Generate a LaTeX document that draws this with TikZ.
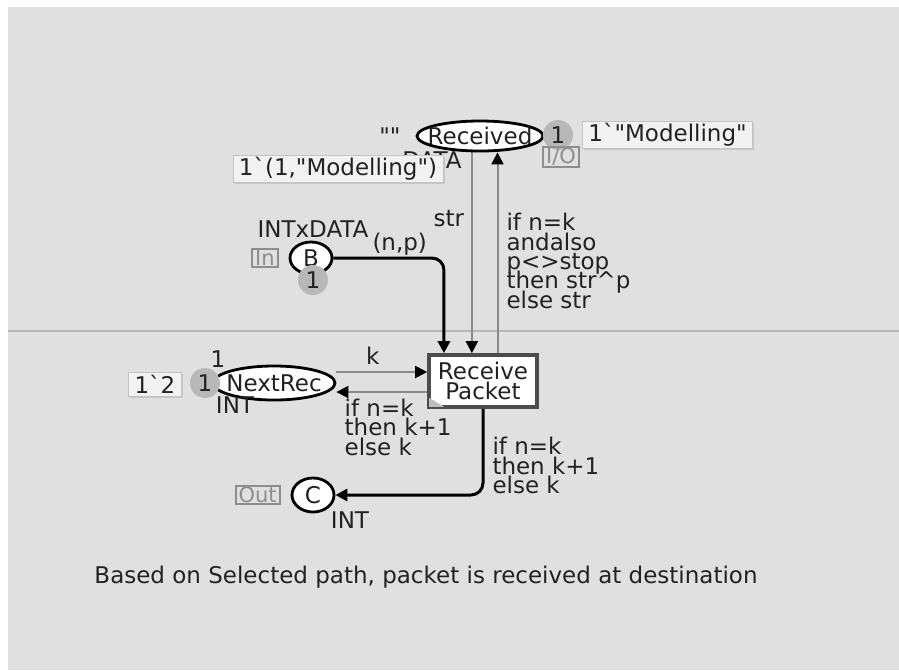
\documentclass[tikz,border=0pt]{standalone}
\usepackage{fontspec}
\setmainfont{DejaVu Sans}[Ligatures=TeXOff]
\usetikzlibrary{arrows.meta, positioning, shapes.geometric, calc, backgrounds, shadows}

\definecolor{canvas}{HTML}{E0E0E0}
\definecolor{sepline}{HTML}{B6B6B6}
\definecolor{tokengray}{HTML}{B8B8B8}
\definecolor{arcgray}{HTML}{8A8A8A}
\definecolor{taggray}{HTML}{8E8E8E}
\definecolor{markfill}{HTML}{F2F2F2}
\definecolor{boxline}{HTML}{C4C4C4}
\definecolor{ink}{HTML}{222222}

\begin{document}
\begin{tikzpicture}[
    x=0.5pt, y=-0.5pt,
    font={\fontsize{11.5}{9.7}\selectfont\lineskiplimit=-6pt},
    every node/.append style={text=ink},
    place/.style={ellipse, draw=black, line width=1.4pt, fill=white, inner sep=0pt},
    port/.style={place, minimum width=21pt, minimum height=16pt},
    trans/.style={rectangle, draw=black!70, line width=1.8pt, fill=white, minimum width=54pt, minimum height=26pt, inner sep=0pt, align=center},
    token/.style={circle, fill=tokengray, minimum size=15pt, inner sep=0pt},
    marking/.style={rectangle, draw=boxline, fill=markfill, inner xsep=3pt, inner ysep=1pt, minimum height=12pt,
        drop shadow={shadow xshift=0.8pt, shadow yshift=-0.8pt, opacity=0.25}},
    tag/.style={rectangle, draw=taggray, line width=0.9pt, text=taggray, inner xsep=1.5pt, inner ysep=0.5pt, font=\fontsize{10.5}{9}\selectfont},
    thin arc/.style={draw=arcgray, line width=1pt, -{Triangle[length=6pt, width=6pt, color=black]}},
    bold arc/.style={draw=black, line width=1.5pt, rounded corners=6pt, -{Triangle[length=6pt, width=6pt]}},
    inscr/.style={align=left, inner sep=0pt}
]

\useasboundingbox (0,0) rectangle (899,670);

% Canvas
\begin{scope}[on background layer]
\fill[white] (0,0) rectangle (899,670);
\fill[canvas] (8,7) rectangle (899,670);
\draw[sepline, line width=1pt] (8,331) -- (899,331);
\end{scope}

% Place Received
\node[place, minimum width=63pt, minimum height=15pt, inner xsep=-4pt] (received) at (480,136) {Received};
\node[left=4pt of received] (recInit) {""};
\node[token] (recTok) at (558,135) {1};
\node[marking, anchor=west] (recMark) at (582,135) {1`"Modelling"};
\node[tag] (ioTag) at (561,157) {I/O};
\node (recType) at (432,160) {DATA};

% Place B
\node[port] (B) at (311,258) {B};
\node[token] (bTok) at (313,280) {1};
\node[tag, left=5pt of B] (inTag) {In};
\node (bType) at (313,229) {INTxDATA};
\node[marking] (bMark) at (338,169) {1`(1,"Modelling")};

% Transition
\node[trans] (recv) at (483,381) {Receive\\Packet};
\fill[black!25] ([shift={(2,-2)}]recv.south west) -- ++(0,-9) -- ++(15,9) -- cycle;

% Place NextRec
\node[place, minimum width=61pt, minimum height=17pt, inner xsep=-2.6pt] (nextrec) at (274,383) {NextRec};
\node[token] (nrTok) at (205,383) {1};
\node[marking] (nrMark) at (155,384) {1`2};
\node (nrInit) at (218,359) {1};
\node (nrType) at (235,405) {INT};

% Place C
\node[port, minimum height=17pt] (C) at (313,495) {C};
\node[tag, left=5pt of C] (outTag) {Out};
\node (cType) at (350,520) {INT};

% Caption
\node (caption) at (426,577) {Based on Selected path, packet is received at destination};

% Arc anchors on the transition
\coordinate (tIn1) at ($(recv.north west)!0.15!(recv.north east)$);
\coordinate (tIn2) at ($(recv.north west)!0.40!(recv.north east)$);
\coordinate (tOut1) at ($(recv.north west)!0.63!(recv.north east)$);
\coordinate (kIn) at ($(recv.west)+(0,-9)$);
\coordinate (kBack) at ($(recv.west)+(0,11)$);

% Arcs
\begin{scope}[on background layer]
\draw[bold arc] (B.east) -| node[pos=0.3, above, yshift=-2.5pt] {(n,p)} (tIn1);
\draw[thin arc] (received.south -| tIn2) -- node[pos=0.33, left] {str} (tIn2);
\draw[thin arc] (tOut1) -- node[pos=0.46, right, inscr, xshift=4pt] {if n=k\\andalso\\p<>stop\\then str\textasciicircum p\\else str} (received.south -| tOut1);
\draw[thin arc] (nextrec.east |- kIn) -- node[pos=0.4, above] {k} (kIn);
\draw[thin arc] (kBack) -- node[pos=0.92, below right, inscr, yshift=-3pt] {if n=k\\then k+1\\else k} (kBack -| nextrec.east);
\draw[bold arc] (recv.south) |- node[pos=0.33, right, inscr, xshift=4pt] {if n=k\\then k+1\\else k} (C.east);
\end{scope}

\end{tikzpicture}
\end{document}
